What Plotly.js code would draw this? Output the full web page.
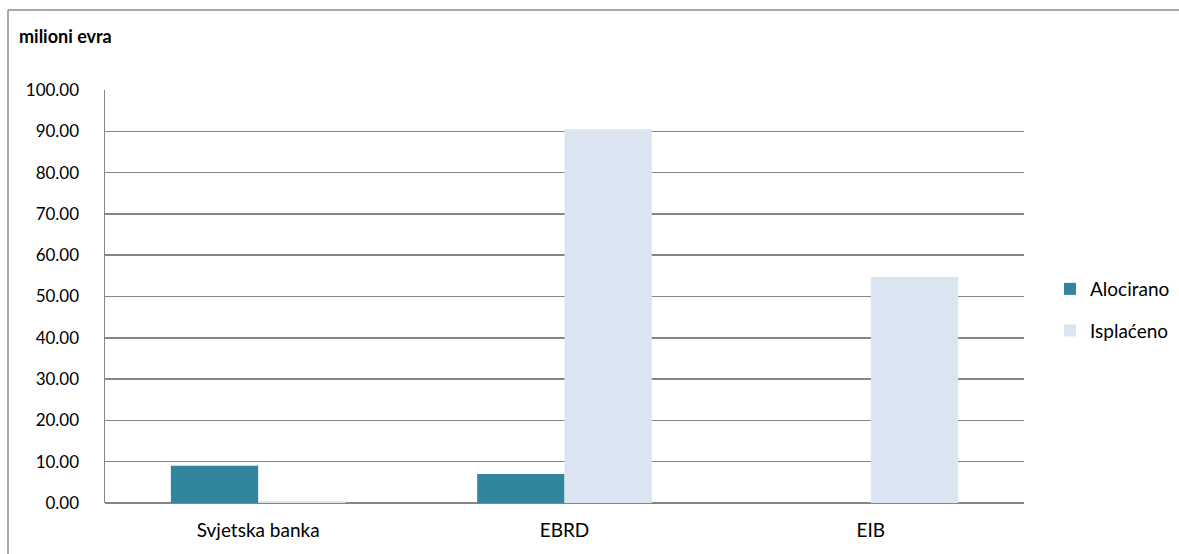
<!DOCTYPE html>
<html>
<head>
<meta charset="utf-8">
<script src="https://cdn.plot.ly/plotly-3.0.1.min.js"></script>
<style>html,body{margin:0;padding:0;background:#fff;}#chart{width:1179px;height:554px;}</style>
</head>
<body>
<div id="chart"></div>
<script>
const categories = ["Svjetska banka", "EBRD", "EIB"];
const alocirano = [9.0, 7.0, 0];
const isplaceno = [0.5, 90.5, 54.7];
const yTicks = [0, 10, 20, 30, 40, 50, 60, 70, 80, 90, 100];
const yTickLabels = ["0.00","10.00","20.00","30.00","40.00","50.00","60.00","70.00","80.00","90.00","100.00"];
const unitLabel = "milioni evra";

const FONT = "Lato, 'Liberation Sans', sans-serif";
const grid = "#868686";

const data = [
  {type:"bar", name:"Alocirano", x:categories, y:alocirano, marker:{color:"#31859C"}, legendgroup:"a", hoverinfo:"y"},
  {type:"bar", name:"Isplaćeno", x:categories, y:isplaceno, marker:{color:"#DBE5F1"}, legendgroup:"b", hoverinfo:"y"}
];

const L = 105, R = 1024, T = 90, B = 503;
const px = v => (v - L) / (R - L);
const py = v => (B - v) / (B - T);

const layout = {
  width:1179, height:554,
  margin:{l:L, r:1179-R, t:T, b:554-B, pad:0, autoexpand:false},
  paper_bgcolor:"#fff", plot_bgcolor:"#fff",
  font:{family:FONT, size:19, color:"#000"},
  barmode:"group", bargap:0.43, bargroupgap:0,
  showlegend:true,
  legend:{x:px(1050), xanchor:"left", y:py(310), yanchor:"middle", traceorder:"grouped", tracegroupgap:14,
          font:{family:FONT, size:19, color:"#000"}, itemwidth:30, bgcolor:"rgba(0,0,0,0)"},
  xaxis:{tickfont:{family:FONT, size:19}, showgrid:false, showline:false, ticks:"", ticklabelstandoff:14, fixedrange:true},
  yaxis:{range:[0,100], tickvals:yTicks, ticktext:yTickLabels, tickfont:{family:FONT, size:17},
         showgrid:true, gridcolor:grid, gridwidth:1.5, zeroline:true, zerolinecolor:grid, zerolinewidth:1.5,
         showline:true, linecolor:grid, linewidth:1.5, ticks:"", ticklabelstandoff:21, fixedrange:true},
  shapes:[
    {type:"line", xref:"paper", yref:"paper", x0:px(8), x1:px(8), y0:py(10), y1:py(600), line:{color:"#8c8c8c", width:1.5}},
    {type:"line", xref:"paper", yref:"paper", x0:px(8), x1:px(1200), y0:py(10), y1:py(10), line:{color:"#8c8c8c", width:1.5}}
  ],
  annotations:[
    {text:"<b>"+unitLabel+"</b>", xref:"paper", yref:"paper", x:px(17), y:py(36), xanchor:"left", yanchor:"middle", showarrow:false,
     font:{family:FONT, size:18, color:"#000"}}
  ]
};

Plotly.newPlot("chart", data, layout, {displayModeBar:false, staticPlot:true});
</script>
</body>
</html>
